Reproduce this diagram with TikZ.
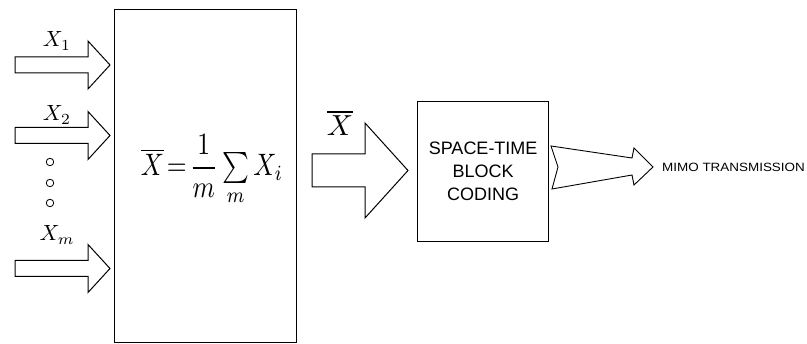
\documentclass[tikz,border=0pt]{standalone}
\usepackage{fontspec}
\newfontfamily\arialf{Liberation Sans}
\begin{document}
\begin{tikzpicture}[x=1pt,y=-1pt,
  blk/.style={draw=black,line width=1.3pt,inner sep=0pt},
  barrow/.style={draw=black,line width=1pt,fill=white,line join=miter},
  lbl/.style={inner sep=0pt,scale=2.2},
  dotc/.style={draw=black,line width=0.8pt,circle,minimum size=7.5pt,inner sep=0pt}]
\useasboundingbox (0,0) rectangle (807,344);
% averaging block
\node[blk,minimum width=182pt,minimum height=333pt,anchor=north west] (avg) at (114,9) {};
\node[inner sep=0pt,xscale=2.55,yscale=3.1] (formula) at (212,170) {$\displaystyle \overline{X}\mkern2mu{=}\mkern2mu\frac{1}{m}\textstyle\sum\limits_{m}X_{i}$};
% input arrows
\foreach \yy/\nm in {65/a1,135.5/a2,268.5/am}{
  \draw[barrow] (15,\yy-8) -- (88,\yy-8) -- (88,\yy-24) -- (110,\yy) -- (88,\yy+24) -- (88,\yy+8) -- (15,\yy+8) -- cycle;
  \coordinate (\nm) at (110,\yy);
}
\node[lbl] (l1) at (57,41) {$X_{1}$};
\node[lbl] (l2) at (57,115) {$X_{2}$};
\node[lbl] (lm) at (57,235) {$X_{m}$};
\node[dotc] (d1) at (50,162) {};
\node[dotc] (d2) at (50,183) {};
\node[dotc] (d3) at (50,203) {};
% middle arrow
\draw[barrow] (312,154) -- (365,154) -- (365,123) -- (408,170.5) -- (365,218) -- (365,187) -- (312,187) -- cycle;
\node[inner sep=0pt,scale=2.9] (xbar) at (340,123) {$\overline{X}$};
% space-time block coding
\node[blk,minimum width=131pt,minimum height=140pt,anchor=north west,align=center,
  font=\arialf\fontsize{18}{23}\selectfont] (stbc) at (417,101) {SPACE-TIME\\BLOCK\\CODING};
% output arrow
\draw[barrow,line width=0.9pt] (551,146) -- (632,158) -- (634,148) -- (653,167) -- (634,185) -- (632,175) -- (552,189) -- (558,167) -- cycle;
\node[anchor=west,inner sep=0pt,xscale=1.12,font=\arialf\fontsize{12}{14}\selectfont] (mimo) at (662,167) {MIMO TRANSMISSION};
\end{tikzpicture}
\end{document}
